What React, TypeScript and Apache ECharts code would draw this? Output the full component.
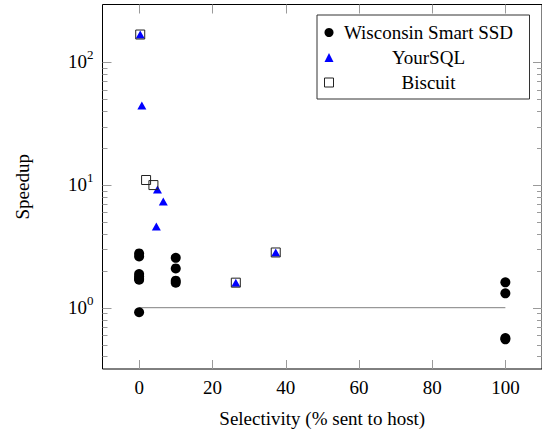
import { useEffect, useRef } from 'react';
import * as echarts from 'echarts';

const FONT = '"Liberation Serif", "Times New Roman", serif';
const FS = 19;

const xTicks = [0, 20, 40, 60, 80, 100];
const yMajorTicks = [1, 10, 100];
const yMinorTicks = [0.4, 0.5, 0.6, 0.7, 0.8, 0.9, 2, 3, 4, 5, 6, 7, 8, 9, 20, 30, 40, 50, 60, 70, 80, 90];

const seriesNames = ['Wisconsin Smart SSD', 'YourSQL', 'Biscuit'];

const wisconsin: number[][] = [
  [0, 2.77], [0, 2.62], [0, 1.88], [0, 1.8], [0, 1.72], [0, 1.69], [0, 0.918],
  [10, 2.55], [10, 2.09], [10, 1.66], [10, 1.6],
  [100, 1.61], [100, 1.31], [100, 0.565], [100, 0.552],
];
const yoursql: number[][] = [
  [0.3, 169], [0.75, 44.5], [5.0, 9.2], [6.6, 7.35], [4.7, 4.6], [26.4, 1.6], [37.3, 2.82],
];
const biscuit: number[][] = [
  [0.3, 169], [1.9, 11.0], [3.9, 10.0], [26.4, 1.6], [37.3, 2.82],
];
const baseline: number[][] = [[0, 1], [100, 1]];

const TICK = '#9a9a9a';

export default function App() {
  const ref = useRef<HTMLDivElement>(null);
  useEffect(() => {
    document.body.style.margin = '0';
    const chart = echarts.init(ref.current!, undefined, { renderer: 'svg' });
    const option: any = {
      animation: false,
      textStyle: { fontFamily: FONT },
      grid: {
        left: 102.5, top: 4.5, width: 441, height: 366,
        show: true, borderColor: '#000', borderWidth: 1, backgroundColor: 'transparent',
      },
      legend: {
        data: [
          { name: seriesNames[0] },
          { name: seriesNames[1] },
          { name: seriesNames[2], itemStyle: { color: 'transparent', borderColor: '#222', borderWidth: 1 } },
        ],
        orient: 'vertical', left: 317, top: 15,
        itemWidth: 9, itemHeight: 9, itemGap: 6,
        padding: [8, 11, 7, 7],
        backgroundColor: '#fff', borderColor: '#333', borderWidth: 1,
        selectedMode: false,
        formatter: (name: string) => `{c|${name}}`,
        textStyle: {
          fontFamily: FONT, fontSize: FS, color: '#000',
          rich: { c: { width: 180, align: 'center', fontSize: FS, fontFamily: FONT, lineHeight: 18, color: '#000' } },
        },
      },
      xAxis: {
        type: 'value', min: -10, max: 110, splitNumber: 6,
        name: 'Selectivity (% sent to host)', nameLocation: 'middle', nameGap: 40,
        nameTextStyle: { fontFamily: FONT, fontSize: FS, color: '#000' },
        axisLine: { show: false }, axisTick: { show: false }, splitLine: { show: false },
        axisLabel: {
          fontFamily: FONT, fontSize: FS, color: '#000', margin: 9,
          showMinLabel: false, showMaxLabel: false,
          formatter: (v: number) => (xTicks.indexOf(v) >= 0 ? String(v) : ''),
        },
      },
      yAxis: {
        type: 'log', logBase: 10, min: 0.3162, max: 297,
        name: 'Speedup', nameLocation: 'middle', nameGap: 71, nameRotate: 90,
        nameTextStyle: { fontFamily: FONT, fontSize: FS, color: '#000' },
        axisLine: { show: false }, axisTick: { show: false }, splitLine: { show: false },
        minorTick: { show: false },
        axisLabel: {
          margin: 9, color: '#000',
          formatter: (v: number) => {
            const l = Math.log10(v);
            const e = Math.round(l);
            if (Math.abs(l - e) > 1e-6 || yMajorTicks.indexOf(Math.pow(10, e)) < 0) return '';
            return `{b|10}{s|${e}}`;
          },
          rich: {
            b: { fontFamily: FONT, fontSize: FS, lineHeight: 18, verticalAlign: 'bottom', color: '#000' },
            s: { fontFamily: FONT, fontSize: 13, lineHeight: 13, verticalAlign: 'bottom', padding: [0, 0, 10, 0], color: '#000' },
          },
        },
      },
      series: [
        {
          type: 'custom', name: 'yticks', silent: true, clip: false, z: 1,
          data: [...yMajorTicks.map((v) => [0, v, 1]), ...yMinorTicks.map((v) => [0, v, 0])],
          encode: { x: 0, y: 1 },
          renderItem: (params: any, api: any) => {
            const cs = params.coordSys;
            const y = Math.round(api.coord([0, api.value(1)])[1]) + 0.5;
            const len = api.value(2) ? 9 : 5;
            return {
              type: 'group',
              children: [
                { type: 'line', shape: { x1: cs.x, y1: y, x2: cs.x + len, y2: y }, style: { stroke: TICK, lineWidth: 1 } },
                { type: 'line', shape: { x1: cs.x + cs.width, y1: y, x2: cs.x + cs.width - len, y2: y }, style: { stroke: TICK, lineWidth: 1 } },
              ],
            };
          },
        },
        {
          type: 'custom', name: 'xticks', silent: true, clip: false, z: 1,
          data: xTicks.map((v) => [v, 1]),
          encode: { x: 0, y: 1 },
          renderItem: (params: any, api: any) => {
            const cs = params.coordSys;
            const x = Math.round(api.coord([api.value(0), 1])[0]) + 0.5;
            return {
              type: 'group',
              children: [
                { type: 'line', shape: { x1: x, y1: cs.y + cs.height, x2: x, y2: cs.y + cs.height - 9 }, style: { stroke: TICK, lineWidth: 1 } },
                { type: 'line', shape: { x1: x, y1: cs.y, x2: x, y2: cs.y + 9 }, style: { stroke: TICK, lineWidth: 1 } },
              ],
            };
          },
        },
        {
          type: 'line', name: 'baseline', data: baseline, showSymbol: false, symbol: 'none', silent: true,
          lineStyle: { color: '#808080', width: 1 }, z: 2,
        },
        {
          type: 'scatter', name: seriesNames[0], data: wisconsin, symbol: 'circle', symbolSize: 10,
          itemStyle: { color: '#000', opacity: 1 }, z: 3,
        },
        {
          type: 'scatter', name: seriesNames[1], data: yoursql, symbol: 'triangle', symbolSize: [9, 8],
          itemStyle: { color: '#0000ff', opacity: 1 }, z: 4,
        },
        {
          type: 'scatter', name: seriesNames[2], data: biscuit, symbol: 'rect', symbolSize: 9,
          itemStyle: { color: 'transparent', borderColor: '#222', borderWidth: 1, opacity: 1 }, z: 5,
        },
      ],
    };
    chart.setOption(option);
    return () => chart.dispose();
  }, []);
  return <div ref={ref} style={{ width: 542, height: 433 }} />;
}
